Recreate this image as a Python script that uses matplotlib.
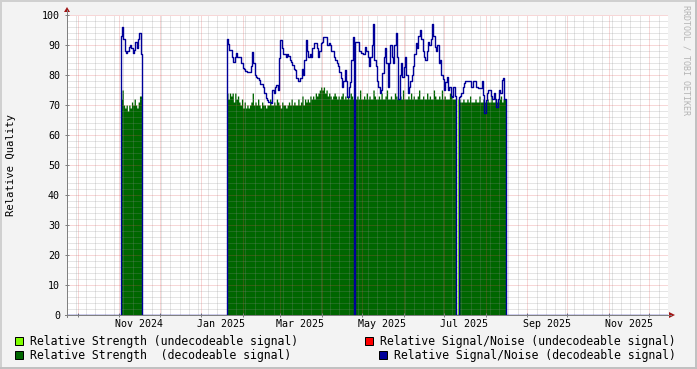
import numpy as np
import pandas as pd
import matplotlib
matplotlib.use('Agg')
import matplotlib.pyplot as plt
import matplotlib.dates as mdates
from matplotlib.patches import Rectangle, Polygon
from matplotlib.lines import Line2D

W, H = 697, 369

# ---------------- data ----------------
x_start, x_end = '2024-09-23', '2025-12-15'
seg_starts = ['2024-11-02', '2025-01-20', '2025-04-26', '2025-07-12']

sn_seg1 = [93, 96, 92, 88, 87.5, 88, 89.5, 90, 89, 87.5, 88.5, 91, 89, 92, 94, 87]
sn_seg2 = [92, 90.5, 88.3, 88.3, 86, 84.4, 86, 87.3, 86, 86,
           86, 84, 82.3, 82, 81.5, 81, 81, 81, 83, 87.8,
           84, 80, 79.4, 79, 78.3, 77, 77, 76, 74, 72.5,
           71.7, 71, 71, 70.6, 75, 74, 76, 76.7, 75, 85.6,
           91.7, 89, 87, 87, 86, 87, 86.5, 85, 84.4, 83.5,
           82, 81.7, 79, 78, 78, 79, 82, 80, 85, 91.7,
           88, 86, 87, 86, 89, 90.6, 90.6, 89, 86, 88,
           90.6, 91, 92.8, 92.8, 92.6, 90, 90.6, 90, 88, 88,
           86, 85, 84, 83, 81, 79, 76, 78, 81.7, 78,
           72.8, 76, 77.7, 85, 92.8]
sn_seg3 = [91, 91, 91, 88, 87.5, 87.5, 87, 89.4, 88, 86,
           83, 86, 90, 97, 85, 83, 78, 76, 74, 75,
           80.6, 86, 89, 84, 76, 84, 90, 86, 84, 90,
           94, 86, 72, 80, 84, 79.4, 82.8, 86, 80, 74,
           76, 78, 80, 83, 87, 90.6, 89, 93, 95, 92,
           88, 86, 85, 88, 91, 90, 92, 97, 93, 89.4,
           88, 90, 84, 85, 80, 78.6, 75, 77.7, 79.4, 75,
           76, 73, 72.8, 76, 73]
sn_seg4 = [72.8, 73, 74, 76, 77.2, 78, 78, 78, 78, 76,
           76, 78, 78, 76, 75.6, 75.6, 75.6, 78, 73.3, 67.2,
           71.7, 74, 75, 75, 73, 72, 74, 72, 69.4, 72,
           75, 74, 78.3, 79, 72]

st_seg1 = [72, 75, 70, 69, 70, 68, 70, 69, 71, 70, 72, 70, 69, 71, 73, 73]
st_seg2 = [74, 72, 74, 73, 74, 71, 74, 72, 73, 71,
           70, 72, 69, 71, 69, 70, 69, 70, 71, 74,
           70, 71, 70, 72, 70, 69, 71, 70, 70, 69,
           70, 70, 72, 70, 70, 71, 70, 72, 71, 70,
           69, 71, 70, 70, 69, 70, 71, 70, 72, 70,
           71, 70, 70, 72, 70, 71, 73, 70, 72, 71,
           72, 71, 73, 72, 73, 72, 74, 73, 74, 75,
           76, 75, 76, 74, 75, 73, 74, 73, 72, 73,
           74, 73, 72, 73, 72, 73, 74, 72, 73, 72,
           73, 72, 74, 73, 72]
st_seg3 = [72, 73, 72, 75, 72, 72, 73, 72, 74, 72,
           73, 72, 72, 75, 73, 72, 72, 73, 72, 74,
           72, 72, 73, 75, 72, 72, 73, 72, 72, 74,
           73, 72, 72, 73, 72, 75, 72, 72, 72, 73,
           72, 74, 72, 73, 72, 72, 73, 75, 72, 72,
           73, 72, 72, 74, 72, 73, 72, 72, 75, 73,
           72, 72, 73, 72, 75, 72, 73, 72, 72, 72,
           74, 73, 72, 72, 72]
st_seg4 = [72, 71, 71, 72, 71, 71, 72, 71, 73, 71,
           71, 71, 72, 71, 71, 73, 71, 71, 72, 71,
           71, 72, 71, 71, 73, 71, 71, 72, 71, 71,
           72, 73, 71, 72, 72]

undec_dates = ['2025-07-11']
undec_strength = [72]

month_labels = ['Nov 2024', 'Jan 2025', 'Mar 2025', 'May 2025',
                'Jul 2025', 'Sep 2025', 'Nov 2025']
label_dates = ['2024-11-16', '2025-01-16', '2025-03-16', '2025-05-16',
               '2025-07-16', '2025-09-16', '2025-11-16']
y_ticks = [0, 10, 20, 30, 40, 50, 60, 70, 80, 90, 100]

legend_entries = [
    ('Relative Strength (undecodeable signal)', '#7FFF00'),
    ('Relative Signal/Noise (undecodeable signal)', '#FF0000'),
    ('Relative Strength  (decodeable signal)', '#006600'),
    ('Relative Signal/Noise (decodeable signal)', '#000099'),
]

# ---------------- series ----------------
days = pd.date_range(x_start, x_end, freq='D')
sn = pd.Series(0.0, index=days)
st = pd.Series(0.0, index=days)
und = pd.Series(0.0, index=days)
for s, sv, gv in zip(seg_starts, [sn_seg1, sn_seg2, sn_seg3, sn_seg4],
                     [st_seg1, st_seg2, st_seg3, st_seg4]):
    idx = pd.date_range(s, periods=len(sv), freq='D')
    sn[idx] = sv
    st[idx] = gv
for d, v in zip(undec_dates, undec_strength):
    und[pd.Timestamp(d)] = v

# ---------------- figure ----------------
plt.rcParams['font.family'] = ['DejaVu Sans Mono']
fig = plt.figure(figsize=(W / 100, H / 100), dpi=100, facecolor='#f3f3f3')

def fx(px):
    return px / W

def fy(py):
    return (H - py) / H

L, R, T, B = 67, 668, 15, 315
ax = fig.add_axes([fx(L), fy(B), fx(R - L), (B - T) / H])
ax.set_facecolor('white')

ax.fill_between(days, 0, st.values, step='post', color='#006600', lw=0, zorder=2)
ax.fill_between(days, 0, und.values, step='post', color='#7FFF00', lw=0, zorder=2)
ax.step(days, sn.values, where='post', color='#000099', lw=1.0, zorder=4)

ax.set_xlim(mdates.date2num(pd.Timestamp(x_start)), mdates.date2num(pd.Timestamp(x_end)))
ax.set_ylim(0, 100)

# grids
ax.xaxis.set_major_locator(mdates.MonthLocator())
ax.xaxis.set_minor_locator(mdates.WeekdayLocator(byweekday=mdates.MO))
ax.yaxis.set_major_locator(matplotlib.ticker.FixedLocator(y_ticks))
ax.yaxis.set_minor_locator(matplotlib.ticker.MultipleLocator(2))
dot = (0, (1, 1))
ax.grid(which='minor', color=(0.56, 0.56, 0.56), alpha=0.45, lw=0.72, linestyle=dot, zorder=3)
ax.grid(which='major', color=(0.87, 0.31, 0.31), alpha=0.45, lw=0.72, linestyle=dot, zorder=3)
ax.set_axisbelow(False)

ax.set_xticklabels([])
ax.tick_params(axis='x', which='major', length=2.9, direction='inout', color='#808080', width=0.72)
ax.tick_params(axis='x', which='minor', length=0)
ax.tick_params(axis='y', which='major', length=2.9, direction='inout', color='#808080', width=0.72,
               pad=3.6, labelsize=7.2, labelcolor='#000000')
ax.tick_params(axis='y', which='minor', length=0)
ax.set_yticklabels([str(v) for v in y_ticks])

for sp in ax.spines.values():
    sp.set_visible(False)

for d, lab in zip(label_dates, month_labels):
    ax.text(mdates.date2num(pd.Timestamp(d)), -3.0, lab, ha='center', va='center',
            fontsize=7.2, color='#000000', clip_on=False)

# axis lines and arrows (figure pixel coordinates)
fig.add_artist(Line2D([fx(L), fx(L)], [fy(B + 2), fy(10)], color='#808080', lw=0.72))
fig.add_artist(Line2D([fx(L - 2), fx(671)], [fy(B), fy(B)], color='#808080', lw=0.72))
fig.add_artist(Polygon([[fx(L - 3), fy(12)], [fx(L + 3), fy(12)], [fx(L), fy(7)]],
                       closed=True, color='#a01515', lw=0))
fig.add_artist(Polygon([[fx(669), fy(B - 3)], [fx(669), fy(B + 3)], [fx(675), fy(B)]],
                       closed=True, color='#a01515', lw=0))

# y label
fig.text(fx(11), fy(165), 'Relative Quality', rotation=90, ha='center', va='center',
         fontsize=7.6, color='#000000')

# watermark
fig.text(fx(686), fy(5), 'RRDTOOL / TOBI OETIKER', rotation=270, ha='center', va='top',
         fontsize=6.0, color='#b4b4b4')

# legend
pos = [(15, 341, 30), (365, 341, 380), (15, 355, 30), (379, 355, 394)]
for (label, col), (sx, cy, tx) in zip(legend_entries, pos):
    fig.add_artist(Rectangle((fx(sx), fy(cy + 4)), fx(8), 8 / H, facecolor=col,
                             edgecolor='#000000', lw=0.72, transform=fig.transFigure))
    fig.text(fx(tx), fy(cy), label, ha='left', va='center', fontsize=8.3, color='#000000')

# frame
fig.add_artist(Line2D([fx(0.5), fx(0.5)], [fy(0), fy(H)], color='#d0d0d0', lw=1.4))
fig.add_artist(Line2D([fx(0), fx(W)], [fy(0.5), fy(0.5)], color='#d0d0d0', lw=1.4))
fig.add_artist(Line2D([fx(W - 1), fx(W - 1)], [fy(0), fy(H)], color='#c0c0c0', lw=1.4))
fig.add_artist(Line2D([fx(0), fx(W)], [fy(H - 1), fy(H - 1)], color='#c0c0c0', lw=1.4))

fig.savefig('out.png', dpi=100, facecolor=fig.get_facecolor())
